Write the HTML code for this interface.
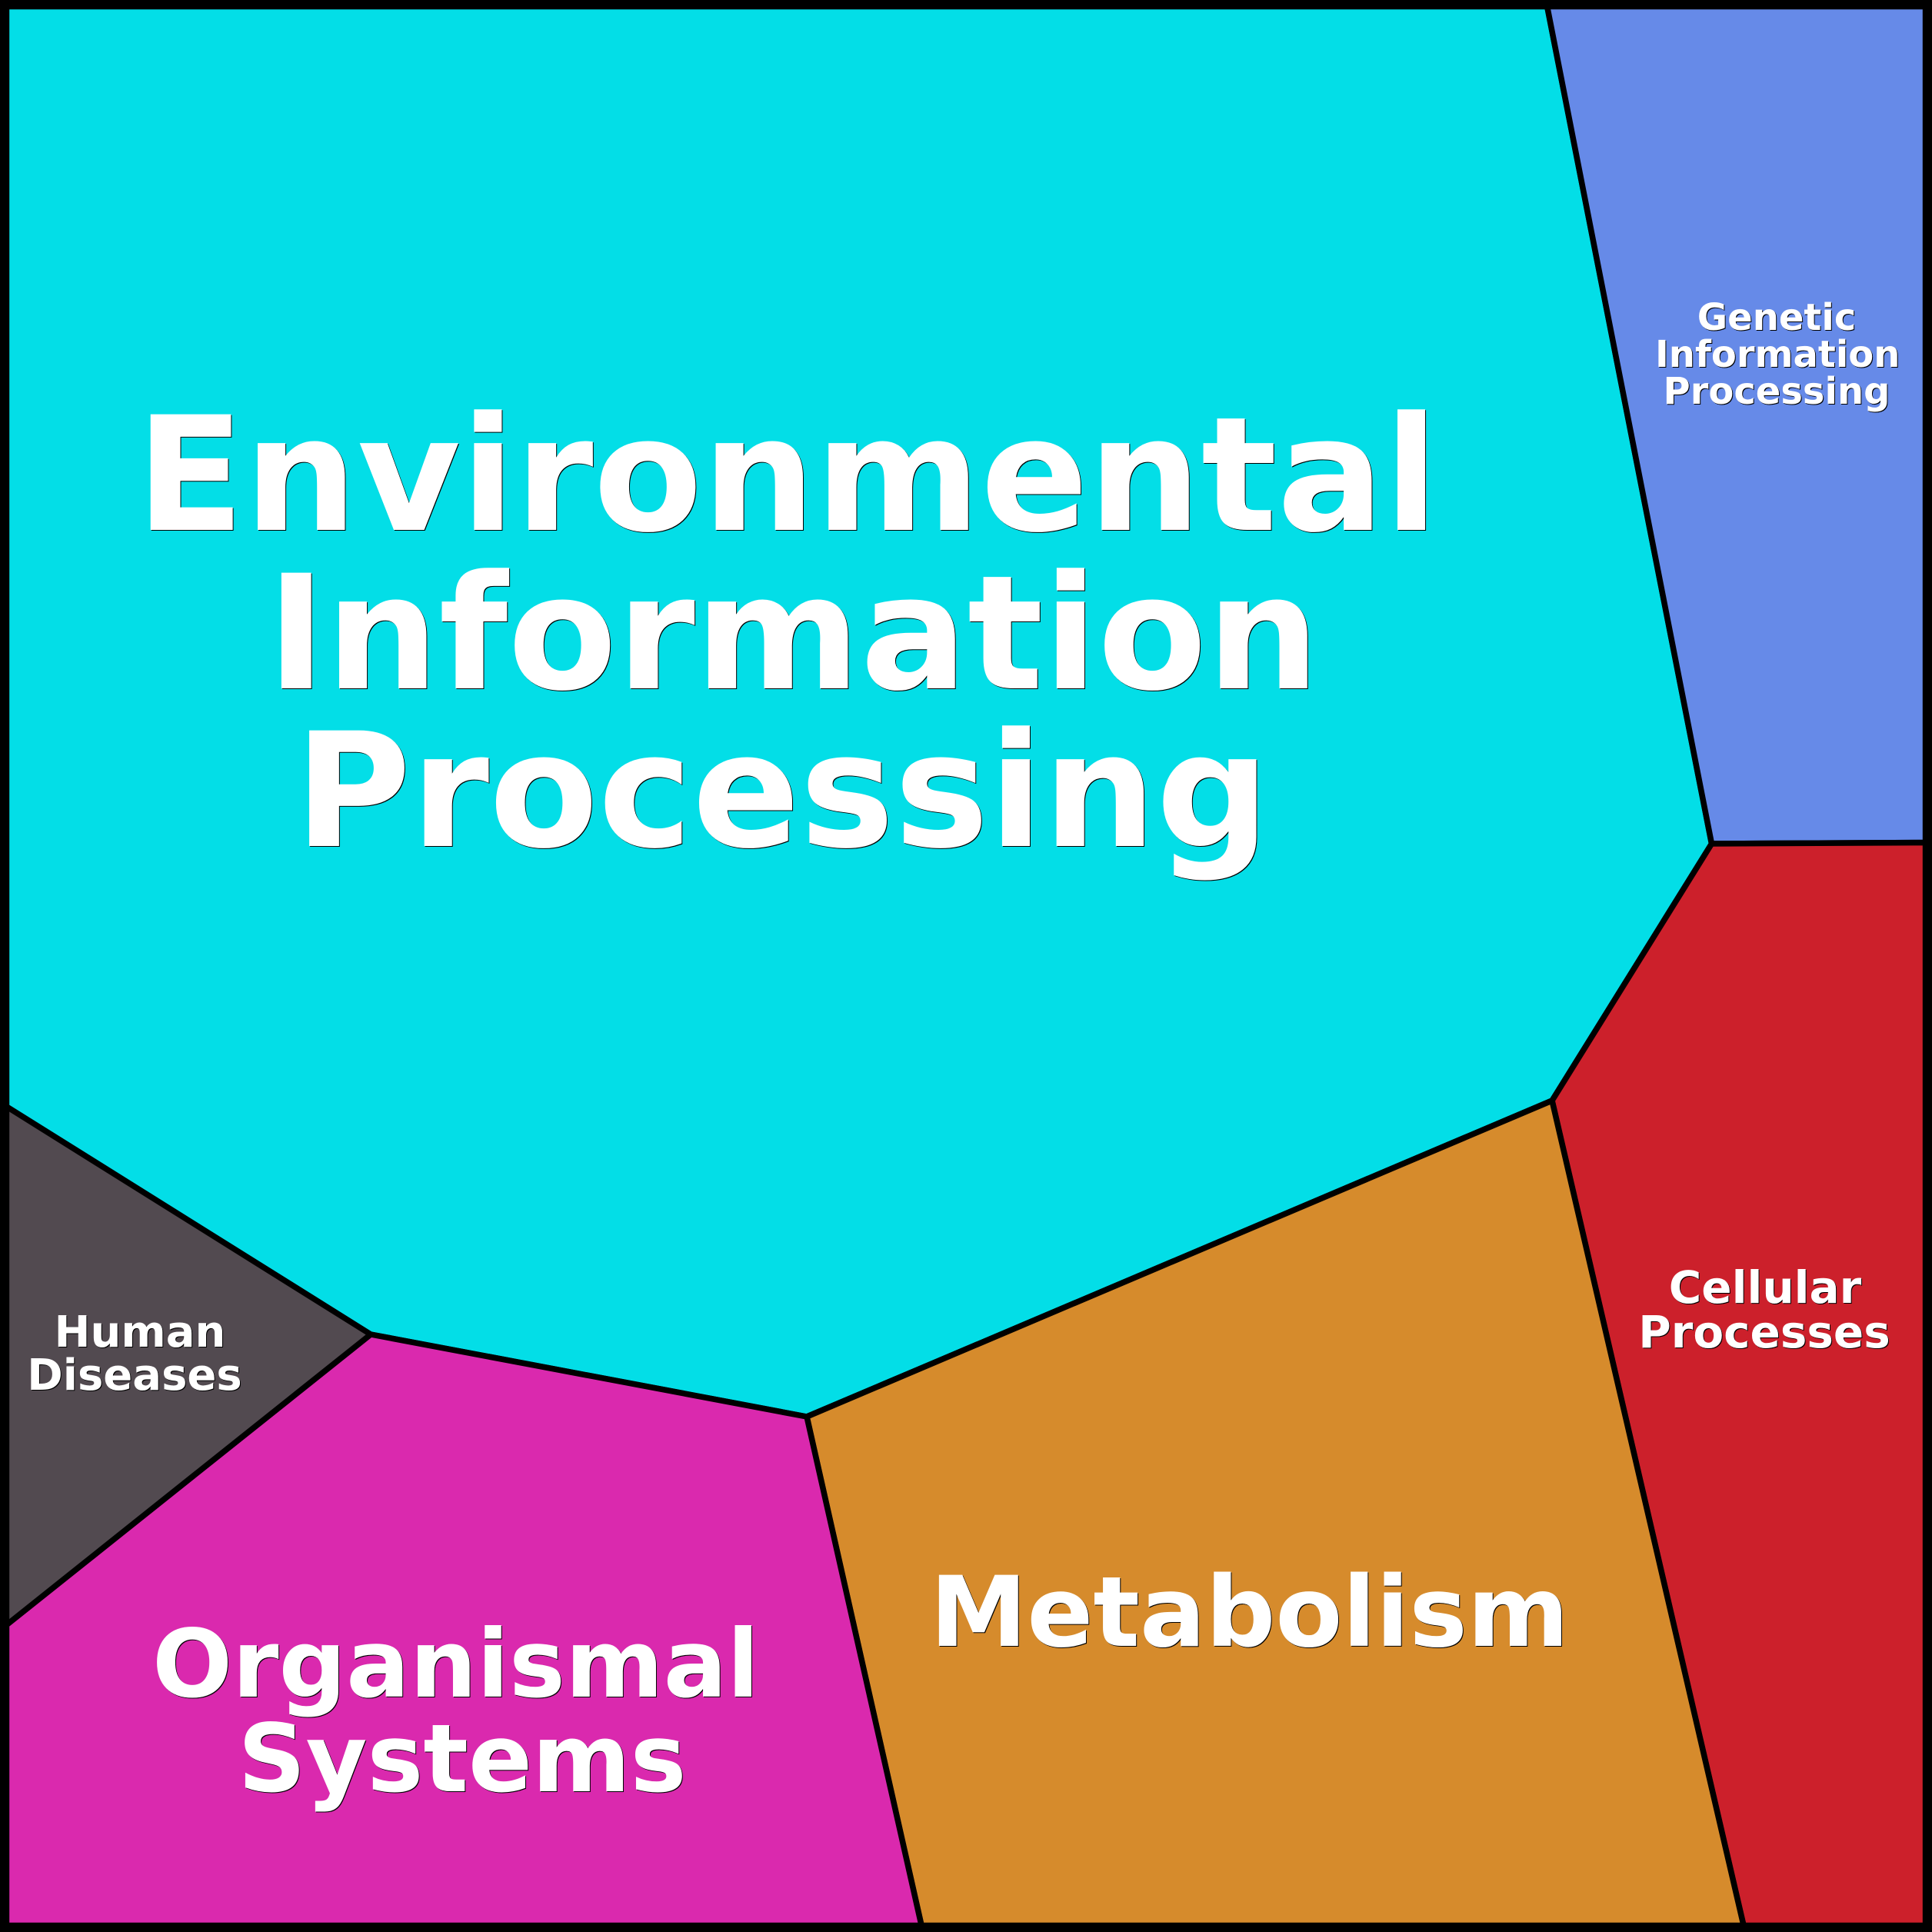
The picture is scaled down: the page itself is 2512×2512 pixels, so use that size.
<!DOCTYPE html>
<html>
<head>
<meta charset="utf-8">
<style>
html,body{margin:0;padding:0;background:#fff;width:2512px;height:2512px;overflow:hidden}
svg{display:block}
text{font-family:"DejaVu Sans","Liberation Sans",sans-serif;font-weight:700;fill:#fff;text-anchor:middle;filter:drop-shadow(1.2px 1.4px 0 #000)}
</style>
</head>
<body>
<svg xmlns="http://www.w3.org/2000/svg" width="2512" height="2512" viewBox="0 0 2512 2512">
<rect x="0" y="0" width="2512" height="2512" fill="#fff"/>
<g stroke="#000" stroke-width="7.5" stroke-linejoin="round">
<polygon fill="#03DEE7" points="0,0 2010,0 2225.5,1097 2018,1431 1049,1842 482,1735 0,1433.5"/>
<polygon fill="#668AE8" points="2010,0 2512,0 2512,1095.5 2225.5,1097"/>
<polygon fill="#CC202B" points="2225.5,1097 2512,1095.5 2512,2512 2269,2512 2018,1431"/>
<polygon fill="#D68B2C" points="1049,1842 2018,1431 2269,2512 1200,2512"/>
<polygon fill="#DA29AE" points="482,1735 1049,1842 1200,2512 0,2512 0,2119.5"/>
<polygon fill="#524A50" points="0,1433.5 482,1735 0,2119.5"/>
</g>
<rect x="6.2" y="6.2" width="2499.6" height="2499.6" rx="5" ry="5" fill="none" stroke="#000" stroke-width="12" stroke-linejoin="round"/>
<text x="1023.6" y="689" font-size="206.3">Environmental</text>
<text x="1031.4" y="895" font-size="206.3">Information</text>
<text x="1017" y="1100" font-size="206.3">Processing</text>
<text x="1624.6" y="2140" font-size="126.8">Metabolism</text>
<text x="592.6" y="2206" font-size="122.5">Organismal</text>
<text x="601" y="2329" font-size="122.5">Systems</text>
<text x="2295" y="1694" font-size="58">Cellular</text>
<text x="2294" y="1752" font-size="58">Processes</text>
<text x="182" y="1751" font-size="56">Human</text>
<text x="175" y="1807" font-size="56">Diseases</text>
<text x="2310" y="429" font-size="48">Genetic</text>
<text x="2311.2" y="477" font-size="48">Information</text>
<text x="2310" y="525" font-size="48">Processing</text>
</svg>
</body>
</html>
